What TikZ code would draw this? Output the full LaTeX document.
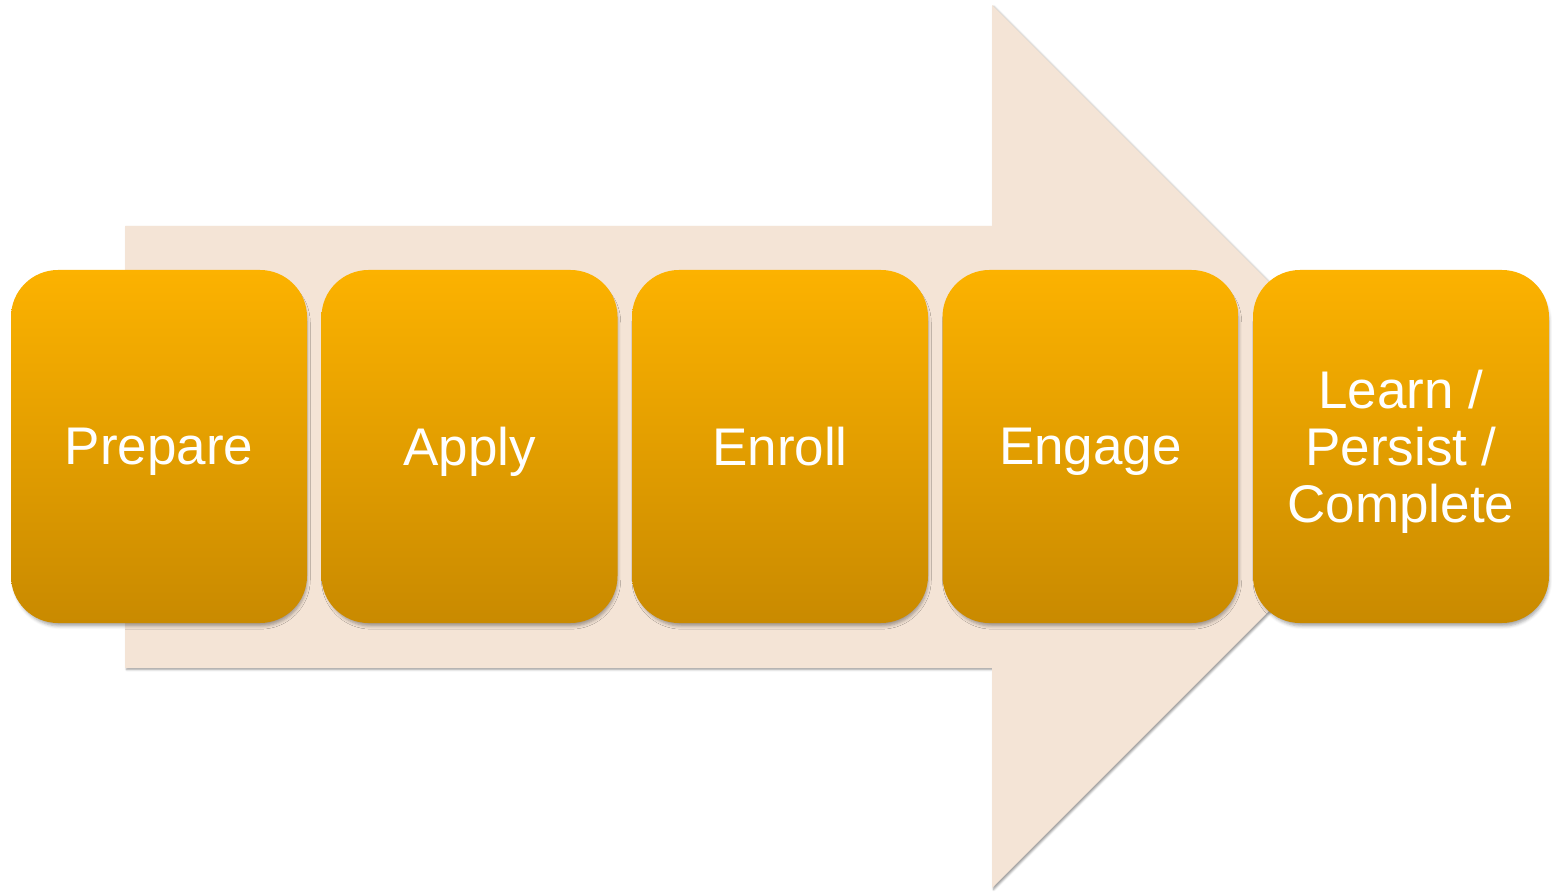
\documentclass[tikz,border=0pt]{standalone}
\usepackage{fontspec}
\setmainfont{Liberation Sans}
\usetikzlibrary{shadows.blur}
\definecolor{peach}{RGB}{244,228,214}
\definecolor{goldtop}{RGB}{252,178,0}
\definecolor{goldbot}{RGB}{201,138,0}
\def\stepx{310.5}
\tikzset{
  stagebox/.style={rounded corners=23.5pt, minimum width=148pt, minimum height=176.5pt,
    top color=goldtop, bottom color=goldbot, text=white, align=center,
    font=\fontsize{26.5}{28.5}\selectfont, inner sep=0pt, text depth=0pt,
    blur shadow={shadow xshift=0.8pt, shadow yshift=-2.4pt, shadow scale=0.99,
      shadow blur radius=1.6pt, shadow opacity=35}},
  bigarrow/.style={fill=peach,
    blur shadow={shadow xshift=0.8pt, shadow yshift=-0.8pt, shadow blur radius=1pt, shadow opacity=40}}
}
\begin{document}
\begin{tikzpicture}[x=0.5pt,y=-0.5pt]
  \useasboundingbox (0,0) rectangle (1552,892);
  %% the big arrow behind the stages
  \path[bigarrow] (125,226) -- (992,226) -- (992,5) -- (1433.5,446.5)
    -- (992,888) -- (992,668) -- (125,668) -- cycle;
  %% the stages
  \foreach \i/\txt in {1/Prepare, 2/Apply, 3/Enroll, 4/Engage, 5/{Learn /\\Persist /\\Complete}}{
    \node[stagebox] (stage\i) at ({159+\stepx*(\i-1)},446.5) {\txt};
  }
\end{tikzpicture}
\end{document}
